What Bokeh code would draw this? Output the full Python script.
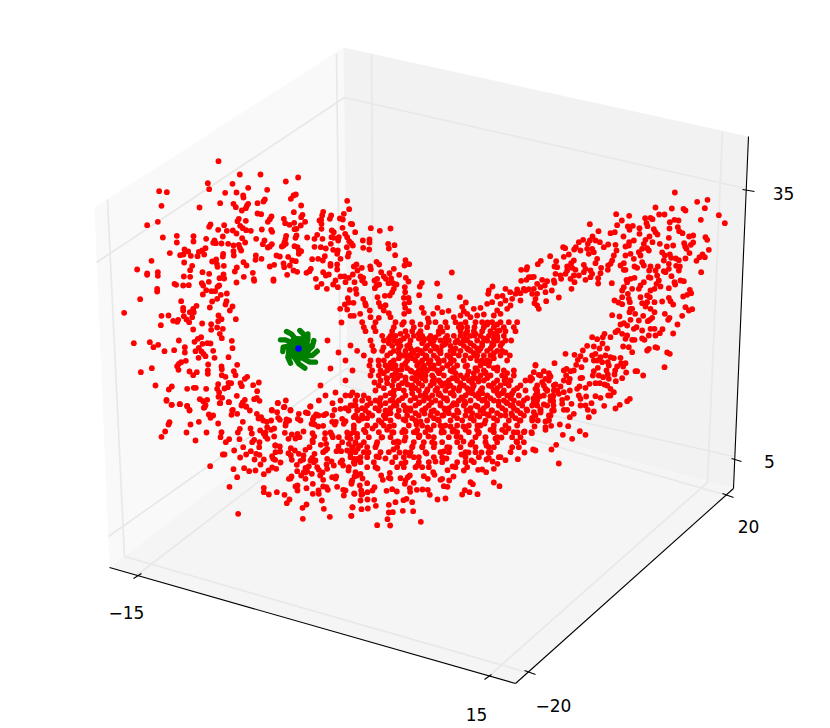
from bokeh.plotting import figure
from bokeh.models import Range1d, ColumnDataSource
from bokeh.core.properties import value
from bokeh.embed import file_html
from bokeh.resources import INLINE

# Red cloud, read from magnified views: (view x, view y), three view units per picture unit
cloud_a = [(324,32),(388,72),(450,72),(563,81),(526,93),(292,98),(366,100),(413,112),(296,116),(470,118),(146,122),(169,125),(344,127),(378,126),(398,135),(399,141),(556,132),(549,135),(541,145),(463,147),(459,153),(329,158),(369,160),(376,170),(413,160),(409,166),(406,173),(441,158),(572,165),(153,166),(267,171),(394,180),(550,185),(441,189),(452,191),(576,193),(572,200),(483,198),(478,206),(472,214),(385,205),(381,212),(406,211),(520,205),(524,218),(537,223),(551,217),(584,214),(571,225),(142,214),(110,224),(300,222),(296,229),(341,224),(389,226),(397,233),(407,239),(421,241),(323,238),(349,241),(367,240),(378,249),(454,237),(482,238),(485,244),(558,235),(552,236),(627,210),(199,256),(249,257),(157,261),(337,258),(287,265),(395,263),(437,265),(527,256),(525,265),(558,255),(555,262),(590,261),(620,253),(612,265),(199,276),(249,273),(312,270),(308,277),(316,278),(333,279),(353,280),(404,276),(462,270),(457,281),(484,281),(478,288),(472,291),(522,275),(519,285),(514,288),(526,280),(552,287),(561,290),(612,289),(369,285),(385,283),(388,292),(392,300),(285,293),(222,297),(233,303),(275,300),(265,304),(178,308),(209,314),(219,312),(241,316),(261,317),(281,312),(338,310),(337,318),(369,302),(370,315),(498,315),(508,318),(533,319),(565,300),(572,302),(565,310),(436,315),(435,328),(453,325),(605,326),(623,325),(123,331),(221,336),(305,333),(317,327),(319,340),(321,349),(340,346),(399,335),(408,345),(478,348),(491,343),(519,339),(521,350),(538,345),(545,330),(556,332),(549,360),(560,364),(245,346),(239,359),(80,357),(110,369),(110,373),(142,365),(142,376),(276,365),(296,370),(379,351),(373,363),(427,367),(601,355),(597,362),(588,367),(220,378),(239,379),(339,372),(327,383),(341,384),(400,379),(489,387),(530,373),(430,386),(616,385)]
cloud_b = [(192,10),(197,13),(218,15),(235,14),(274,8),(278,15),(295,4),(326,15),(321,19),(378,6),(431,1),(489,1),(620,20),(140,25),(140,33),(287,29),(303,32),(314,32),(277,42),(331,43),(349,39),(89,56),(212,62),(305,63),(320,55),(348,62),(345,72),(366,78),(298,81),(258,76),(248,85),(218,82),(218,90),(238,95),(250,95),(358,90),(41,97),(153,106),(174,105),(220,107),(245,110),(228,117),(236,125),(188,121),(203,118),(200,124),(324,105),(333,116),(323,122),(376,116),(151,134),(275,129),(302,131),(302,148),(320,141),(337,145),(248,147),(328,160),(334,173),(272,170),(262,175),(252,184),(205,180),(364,181),(70,188),(118,185),(143,193),(129,200),(276,190),(291,188),(300,189),(223,200),(265,202),(255,212),(366,203),(162,212),(191,209),(223,216),(308,211),(273,213),(279,220),(285,227),(264,232),(312,232),(354,230),(226,241),(212,245),(205,250),(200,257),(204,268),(293,252),(380,253),(124,263),(91,275),(333,258),(334,266),(237,273),(259,275),(248,284),(292,270),(292,280),(370,272),(375,284),(334,284),(345,289),(410,289),(403,295),(445,306),(135,315),(184,318),(175,327),(230,325),(250,322),(256,322),(287,325),(323,311),(320,325),(342,324),(352,320),(362,308),(354,307),(390,308),(394,317),(428,314),(440,332),(326,336),(324,349),(335,352),(379,346),(439,352),(431,356),(447,361),(403,358),(397,366),(355,365),(329,368),(168,358),(268,356),(278,362),(290,358),(502,367),(526,360),(184,373),(208,371),(230,377),(282,380),(393,375),(407,379),(520,380),(600,378),(484,388),(367,388),(237,388),(540,388),(625,360)]
cloud_c = [(48,1),(63,13),(88,11),(110,16),(117,30),(160,22),(165,14),(208,8),(235,5),(275,10),(287,18),(298,30),(382,8),(402,19),(420,30),(479,18),(546,8),(552,28),(570,25),(585,23),(605,15),(622,28),(175,42),(180,52),(188,45),(245,30),(243,43),(260,40),(319,40),(364,30),(380,35),(332,50),(338,60),(349,64),(362,60),(383,52),(388,58),(445,40),(442,55),(466,36),(472,38),(497,42),(490,50),(487,57),(520,44),(527,40),(408,57),(416,60),(406,68),(57,65),(54,72),(120,72),(145,64),(203,69),(277,64),(483,70),(492,72),(503,78),(518,76),(545,64),(556,64),(553,72),(575,55),(585,62),(580,70),(610,50),(622,55),(350,80),(371,84),(362,88),(268,85),(262,96),(329,90),(44,93),(108,96),(168,96),(213,95),(210,110),(304,99),(340,100),(345,108),(351,115),(371,108),(403,97),(424,102),(441,100),(447,110),(459,93),(414,115),(486,98),(491,108),(524,98),(544,103),(547,110),(565,110),(590,96),(600,100),(610,85),(620,100),(33,109),(135,120),(236,116),(226,125),(267,116),(311,118),(305,125),(327,125),(326,140),(487,125),(511,133),(527,130),(523,115),(575,125),(595,130),(600,115),(615,130),(278,140),(374,135),(388,138),(421,143),(433,150),(465,148),(477,140),(530,145),(558,152),(572,152),(590,150),(605,150),(622,145),(251,150),(301,152),(375,155),(389,153),(414,158),(445,160),(492,160),(518,155),(600,160),(217,162),(222,162),(287,162),(317,160),(327,163),(421,165),(365,167),(368,175),(269,171),(312,177),(340,177),(424,178),(458,177),(450,181),(485,172),(495,180),(530,175),(612,175),(622,175),(374,178),(330,192),(490,185),(439,193),(475,197),(465,202),(500,200),(543,183),(550,195),(528,192),(575,180),(578,195),(595,200),(612,190),(179,197),(365,201),(377,205),(281,203),(249,206),(296,212),(315,210),(440,212),(460,215),(470,212),(484,220),(505,208),(530,205),(340,221),(260,230),(423,228),(415,235),(452,225),(465,235),(509,225),(518,238),(545,230),(557,228),(605,240),(612,228),(630,220),(487,250),(603,250),(237,259),(340,262),(435,258),(441,255),(441,270),(468,263),(518,258),(528,260),(560,259),(379,275),(340,275),(355,282),(402,283),(487,280),(505,280),(532,268),(578,268),(580,285),(612,280),(636,280),(417,297),(409,308),(514,300),(468,312),(456,322),(520,325),(606,321),(263,340),(538,349),(602,346),(457,355)]
cloud_d = [(80,31),(86,56),(8,64),(5,75),(32,75),(28,85),(70,70),(58,84),(67,87),(2,88),(91,100),(95,101),(151,113),(66,112),(3,100),(3,115),(178,121),(210,114),(34,120),(40,125),(104,125),(74,130),(80,140),(127,150),(147,147),(147,156),(6,145),(33,140),(39,142),(55,140),(53,150),(86,152),(92,158),(97,165),(31,160),(203,160),(222,164),(205,174),(128,172),(146,177),(16,174),(1,170),(38,178),(52,180),(50,190),(79,170),(85,188),(82,198),(224,194),(60,205),(13,197),(7,210),(255,209),(266,221),(252,225),(168,214),(176,222),(30,220),(30,226),(50,222),(100,228),(108,222),(149,228),(151,236),(124,232),(111,240),(50,237),(8,245),(16,255),(25,252),(182,245),(207,248),(220,235),(236,253),(97,252),(60,258),(72,258),(85,262),(45,270),(190,258),(196,265),(212,264),(256,262),(264,273),(120,258),(128,262),(125,270),(133,278),(162,270),(170,265),(176,282),(168,285),(204,278),(218,278),(3,280),(38,282),(75,275),(102,275),(304,277),(350,279),(298,288),(228,282),(220,295),(215,305),(163,293),(253,290),(19,295),(52,290),(88,298),(106,296),(108,310),(254,305),(193,316),(208,315),(296,314),(358,317),(171,320),(250,322),(264,322),(82,323),(128,325),(134,338),(418,320),(394,246),(516,288),(555,295),(505,300),(503,310),(530,318),(546,316),(569,305),(590,297),(600,308),(615,300),(625,296),(436,336),(266,335),(175,337),(195,344),(180,348),(85,336),(73,342),(99,337),(59,355),(80,357),(136,345),(148,360),(190,360),(252,340),(254,352),(304,352),(351,352),(310,367),(365,365),(384,361),(425,349),(338,370),(430,362),(251,370),(265,362),(205,368),(210,380),(119,370),(90,376),(100,376),(150,380),(175,382),(322,384),(400,380),(420,375),(440,370),(460,355),(480,352),(500,340),(515,335),(540,340),(555,330),(575,325),(530,360),(560,355),(490,372),(520,375),(600,330),(602,271),(620,230),(618,237),(602,238),(618,268),(625,260),(610,295),(540,370),(470,375),(450,380),(570,345),(585,310)]
cloud_g = [(433,36),(531,58),(500,64),(375,81),(424,84),(459,85),(465,90),(523,83),(257,101),(296,106),(386,102),(402,102),(565,104),(344,113),(360,112),(366,116),(348,128),(351,137),(274,120),(511,118),(418,125),(432,118),(444,120),(583,128),(178,131),(260,134),(292,138),(307,136),(297,148),(327,143),(417,144),(442,140),(446,152),(456,158),(370,146),(375,155),(204,152),(240,158),(253,155),(279,168),(327,160),(357,168),(381,162),(415,172),(476,168),(488,165),(525,170),(530,178),(186,168),(178,180),(145,185),(158,178),(195,180),(208,185),(345,178),(366,185),(388,190),(340,190),(296,185),(310,180),(488,186),(481,193),(461,188),(464,198),(428,195),(409,198),(535,208),(98,200),(104,203),(136,200),(131,207),(150,210),(170,205),(172,190),(185,205),(220,200),(233,192),(255,193),(295,195),(285,198),(350,203),(355,210),(335,205),(325,215),(468,205),(477,218),(395,216),(403,225),(418,222),(422,232),(436,234),(445,239),(59,227),(100,229),(115,222),(190,215),(175,220),(200,235),(258,210),(250,225),(300,220),(285,225),(310,235),(330,225),(516,222),(523,230),(507,230),(498,241),(465,234),(77,242),(31,241),(22,251),(130,240),(122,248),(160,253),(195,248),(245,240),(240,250),(270,255),(280,248),(312,258),(320,262),(335,245),(340,255),(400,240),(415,250),(437,256),(448,258),(445,270),(72,258),(80,260),(110,258),(125,262),(165,265),(180,270),(212,262),(233,255),(232,268),(280,268),(285,268),(360,258),(382,258),(356,270),(375,270),(400,272),(405,275),(415,265),(512,275),(75,280),(110,270),(135,268),(160,275),(185,280),(210,278),(90,285),(105,280),(130,285),(145,285),(423,287),(380,285),(360,292),(385,300),(10,289),(3,290),(92,295),(165,298),(203,293),(180,290),(120,295),(132,305),(300,295),(312,292),(288,298),(340,305),(355,290),(450,300),(460,302),(432,305),(434,312),(35,298),(50,302),(70,300),(72,307),(20,310),(43,315),(30,320),(203,309),(244,308),(290,305),(330,315),(378,310),(390,318),(280,320),(275,330),(305,325),(325,325),(360,330),(372,325),(415,323),(123,325),(478,328),(482,338),(470,343),(458,348),(64,330),(10,325),(45,335),(20,340),(292,340),(275,350),(85,351),(47,362),(15,355),(5,340),(12,368),(252,360),(264,366),(275,371),(295,355),(298,365),(330,350),(350,345),(358,350),(350,365),(372,365),(395,363),(415,352),(420,362),(428,372),(335,368),(345,378),(360,385),(300,385),(305,385),(25,385),(20,375),(465,380),(485,386)]
cloud_h = [(245,14),(267,18),(297,5),(300,28),(314,10),(338,16),(325,30),(358,28),(352,32),(372,5),(365,22),(403,10),(417,22),(413,28),(455,16),(475,0),(441,42),(270,42),(280,38),(290,45),(318,50),(310,55),(255,65),(262,60),(360,55),(372,55),(396,56),(388,68),(375,75),(355,75),(428,69),(335,60),(185,80),(200,86),(222,70),(217,80),(240,80),(275,70),(290,75),(285,85),(305,88),(312,88),(335,84),(342,88),(216,99),(170,106),(190,108),(207,114),(230,114),(278,108),(295,110),(355,115),(350,120),(375,110),(380,112),(305,125),(105,130),(132,133),(157,120),(150,137),(142,148),(165,148),(185,135),(195,130),(210,140),(225,135),(240,140),(250,143),(270,142),(410,126),(418,130),(137,163),(153,170),(190,150),(200,150),(215,155),(232,155),(235,165),(260,168),(272,158),(285,158),(278,168),(72,158),(15,163),(202,172),(190,182),(187,195),(228,180),(232,192),(254,180),(252,192),(287,186),(315,182),(320,182),(338,195),(402,170),(40,182),(10,185),(25,193),(55,188),(60,198),(100,180),(108,175),(120,182),(130,180),(107,195),(118,205),(150,203),(155,202),(205,195),(218,200),(235,205),(256,212),(275,203),(45,205),(35,215),(5,205),(0,200),(100,210),(115,215),(75,222),(90,228),(177,220),(195,218),(208,218),(222,222),(230,225),(140,235),(147,228),(165,232),(15,235),(20,245),(45,235),(50,240),(70,240),(85,250),(100,245),(118,240),(240,235),(250,245),(233,255),(240,255),(145,255),(150,265),(167,258),(195,257),(210,262),(60,258),(68,258),(15,260),(28,258),(95,268),(110,262),(298,265),(290,272),(10,275),(20,285),(40,282),(68,272),(95,280),(123,280),(150,285),(165,285),(183,278),(221,286),(268,283),(255,294),(30,297),(65,300),(100,298),(110,298),(172,298),(190,303),(130,310),(118,320),(10,305),(5,322),(22,330),(60,315),(55,328),(175,320),(45,350),(62,346),(88,342),(113,347),(148,362),(165,373),(97,373),(125,385),(45,358),(4,368)]
cloud_f = [(6,260),(33,266),(52,264),(76,256),(71,238),(51,237),(3,286),(80,314),(119,315),(111,296),(115,276),(127,275),(157,271),(188,272),(115,253),(135,245),(159,239),(168,235),(185,245),(211,304),(261,237),(285,234),(238,223),(232,208),(216,207),(199,208),(178,203),(179,214),(139,213),(125,206),(108,211),(72,200),(50,188),(28,195),(32,210),(11,219),(33,223),(51,215),(335,222),(343,209),(357,215),(381,221),(447,197),(430,186),(367,191),(360,185),(291,199),(280,197),(296,180),(309,168),(275,175),(270,178),(232,175),(220,167),(190,187),(150,173),(163,190),(178,165),(172,170),(92,165),(97,178),(118,157),(115,172),(15,155),(3,185),(20,165),(430,145),(441,130),(383,148),(395,147),(407,155),(340,150),(291,149),(248,155),(252,163),(603,87),(617,73),(625,129),(548,87),(555,90),(522,96),(502,116),(465,119),(450,110),(408,117),(415,112)]
dense_e = {5:[35,75,135,160,185,235,255,285,315,345,375,395,425,450,475,500],
 20:[40,70,130,190,230,270,290,325,350,372,400,430,460,490],
 32:[45,75,125,165,185,210,265,272,330,350,370,395,420,440,465,495],
 46:[95,120,135,170,190,215,240,290,310,330,360,390,415,440,460],
 60:[60,100,130,150,180,220,250,270,295,320,350,380,410,440,465,482],
 76:[65,125,150,170,230,250,275,300,340,370,395,425,450],
 91:[20,70,95,130,165,190,210,240,265,300,330,360,385,410,440,455],
 105:[40,110,155,175,200,225,250,290,325,345,380,400,420,450,478],
 120:[60,100,130,170,195,215,240,265,280,310,340,380,395,410,470],
 135:[85,105,135,155,200,220,250,290,320,350,390,415,555],
 150:[65,90,110,140,180,205,230,260,300,380,400,440,460,490],
 165:[60,85,125,150,205,225,245,280,330,350,390,420,455,490,570,597],
 180:[90,130,165,195,225,265,295,320,355,385,400,440,480,525,540,595],
 195:[85,125,145,185,215,240,275,300,340,370,415,450,475,510,560,580,610],
 210:[75,130,160,205,230,255,285,325,355,390,430,460,490,525,560,590,620],
 225:[0,20,40,105,130,165,210,245,270,310,345,375,410,445,470,505,555,580,608],
 240:[15,35,75,120,145,180,220,255,290,325,360,395,430,460,490,520,560,600],
 255:[0,50,90,130,160,195,235,270,305,340,375,410,445,480,515,545,590],
 270:[20,45,85,105,145,180,215,250,285,320,355,390,425,465,500,530,570,610],
 285:[15,35,65,100,140,170,205,240,275,310,345,380,415,450,485,520,555,595],
 300:[25,85,120,165,195,230,265,300,335,370,405,440,475,510,545,595],
 315:[10,50,75,100,130,175,215,250,285,320,355,390,430,465,500],
 328:[40,110,160,200,240,275,310,345,380,420,455]}
core_e = {12:[155,210,330,410,440],40:[150,205,265,345,375,430],54:[115,160,205,235,285,345,400,430],
 68:[115,140,215,240,285,330,360,395,425,455],84:[145,180,225,255,315,350,380,420],
 98:[120,145,185,215,270,310,370,430],113:[145,185,225,260,300,360,430],128:[120,165,205,235,265,300,405],
 143:[125,170,215,240,275,310,375,430],158:[100,135,195,215,265,315,370,405,470],173:[110,140,185,215,250,305,340,375,410,465],
 188:[110,155,205,250,285,330,365,430,465],203:[100,145,195,260,310,350,395,440,500],218:[120,185,225,265,300,365,395,455,485],
 233:[90,155,195,235,280,335,385,420,480,530],248:[60,105,135,205,270,310,345,410,470,505],263:[35,75,120,170,225,295,360,400,455,490],
 278:[55,120,195,260,295,365,400,440,510],293:[50,105,185,250,320,360,430,495]}
dense_f = {35:[10,45,85,125,155,190,225,280,320,355,385,430,465,490,520,543],
 50:[20,55,95,120,165,205,250,295,330,375,405,440,485,510],
 65:[15,40,80,130,145,190,220,245,275,320,365,405,440,500,520],
 80:[5,50,75,140,185,215,250,290,330,375,415,430,485,505],
 95:[15,40,90,115,165,180,225,270,295,345,375,420,480],
 110:[0,30,50,85,135,160,190,205,250,275,345,385,445],
 125:[10,30,70,125,165,205,235,275,320,345,370],
 140:[50,75,140,160,195,215,235,315,350]}
cloud_extra = [(341,322),(327,340),(350,345),(338,352),(345,360),(352,370),(330,368),(345,380),(335,392),(352,392),(325,395),(320,385),(340,400)]
cloud_core = [(383,347),(391,362),(397,341),(404,355),(411,371),(417,349),(423,338),(429,362),(436,347),(442,331),(449,356),(455,342),(461,327),(468,349),(474,335),(481,361),(487,322),(493,344),(499,330),(505,352),(386,378),(393,391),(401,369),(407,384),(414,397),(421,376),(427,389),(433,368),(440,382),(446,398),(452,371),(459,387),(465,366),(472,378),(478,393),(485,372),(491,386),(497,367),(504,380),(511,394),(379,402),(388,413),(396,405),(403,419),(410,408),(416,424),(424,413),(431,402),(437,419),(444,408),(450,426),(458,412),(464,401),(471,417),(477,406),(484,423),(491,410),(498,401),(505,415),(512,405),(519,420),(526,409),(533,398),(540,412),(372,428),(381,437),(389,426),(397,441),(405,431),(412,446),(419,435),(427,427),(434,443),(441,432),(449,447),(456,436),(463,426),(470,444),(478,433),(486,445),(493,428),(501,437),(508,428),(516,441),(524,431),(534,426),(545,421),(553,405),(360,445),(368,452),(376,444),(385,458),(393,449),(401,463),(409,455),(417,465),(426,453),(435,461),(443,451),(452,466),(461,454),(471,460),(481,452),(492,461),(330,432),(338,446),(347,437),(355,460),(340,462),(325,450),(312,440),(303,455),(295,438),(285,425),(275,445),(265,432),(258,418),(250,428),(300,420),(318,415),(332,415),(348,410),(362,418),(368,398),(374,382),(369,365),(378,360),(373,350),(355,405),(345,395),(310,460),(322,472),(335,478),(348,470),(362,478),(377,468),(372,490),(390,478),(405,480),(280,462),(268,470),(290,478),(305,472),(318,490),(345,490),(360,500),(440,350)]
cloud_core_more = [(409,344),(426,356),(444,344),(463,340),(480,348),(497,338),(388,366),(405,377),(424,368),(447,365),(468,371),(489,361),(411,388),(432,381),(452,392),(472,388),(497,393),(392,399),(419,402),(438,394),(461,397),(484,399),(506,402),(398,416),(420,421),(443,415),(466,410),(487,414),(511,413),(381,422),(404,440),(428,436),(452,431),(477,425),(495,438),(517,432),(376,456),(399,452),(422,446),(446,458),(468,452),(488,452),(412,352),(435,337),(453,350),(474,355),(416,378),(439,372),(455,378),(478,381),(425,396),(447,386),(468,392),(405,410),(431,411),(456,404),(479,416),(393,432),(416,432),(440,425),(463,441)]

# Small pinwheel: arms read from a magnified view
arm_xs = [[88,100,100,92],[48,62,72,78],[30,45,60,72],[37,38,50,68],[60,52,55,72],[103,85,75,78],[135,118,100,90],[140,125,110,96],[130,125,115,100],[112,112,105,95]]
arm_ys = [[30,42,55,70],[33,40,52,68],[58,58,65,75],[93,80,78,82],[128,110,95,90],[143,130,115,98],[125,125,115,100],[92,105,105,92],[60,78,88,85],[40,58,72,78]]
hub_view = (84, 84)

x_tick_labels = ["\u221215", "15"]
y_tick_labels = ["\u221220", "20"]
z_tick_labels = ["5", "35"]


def place(points, x0, y0):
    return [x0 + a / 3 for a, _ in points], [y0 + b / 3 for _, b in points]


def rows(table):
    return [(a, b) for b, xs in table.items() for a in xs]


red_x, red_y = [], []
for pts, x0, y0 in [(cloud_a, 110, 150), (cloud_b, 110, 280), (cloud_c, 150, 400), (cloud_d, 320, 190),
                    (rows(dense_e), 350, 320), (rows(core_e), 350, 320), (rows(dense_f), 350, 420), (cloud_f, 350, 420),
                    (cloud_g, 530, 180), (cloud_h, 530, 310)]:
    xs, ys = place(pts, x0, y0)
    red_x += xs
    red_y += ys
red_x += [a for a, _ in cloud_extra + cloud_core + cloud_core_more]
red_y += [b for _, b in cloud_extra + cloud_core + cloud_core_more]

p = figure(width=830, height=728, x_range=Range1d(0, 830), y_range=Range1d(728, 0),
           toolbar_location=None, output_backend="svg", min_border=0, outline_line_color=None,
           background_fill_color="white", border_fill_color="white")
p.axis.visible = False
p.grid.visible = False

# Panes
p.patch([94, 343, 347, 109], [207, 47, 385, 567], fill_color="#f9f9f9", line_color=None)
p.patch([343, 748, 733, 347], [47, 136, 488, 385], fill_color="#f2f2f2", line_color=None)
p.patch([109, 347, 733, 515], [567, 385, 488, 683], fill_color="#f5f5f5", line_color=None)

# Grid
grid_c = "#e8e8e8"
gx = [[96, 344, 745], [108, 346, 733], [107, 124, 527], [336, 340, 727], [136, 373], [371, 373], [488, 707, 722]]
gy = [[262, 97, 188], [536, 368, 456], [199, 556, 672], [53, 384, 495], [575, 393], [53, 393], [676, 482, 131]]
p.multi_line(gx, gy, line_color=grid_c, line_width=1.7)

# Axis lines and ticks
p.multi_line([[109, 515], [515, 733], [733, 748]], [[567, 683], [683, 488], [488, 136]], line_color="black", line_width=1.1)
p.multi_line([[133, 141], [484, 491], [524, 535], [722, 733], [731, 741], [742, 754]],
             [[578, 573], [679, 674], [670, 674], [493, 497], [458, 461], [189, 191]], line_color="black", line_width=1.1)

# Tick labels
labels = x_tick_labels + y_tick_labels + z_tick_labels
src = ColumnDataSource(dict(x=[126, 476, 553, 748, 769, 783], y=[612, 714, 705, 526, 461, 193], t=labels))
p.text("x", "y", text="t", source=src, text_font=value("DejaVu Sans"), text_font_size=value("17px"),
       text_color="black", text_align="center", text_baseline="middle")

# Data
p.scatter(red_x, red_y, size=5.8, fill_color="#ff0000", line_color=None)
p.multi_line([[270 + a / 3 for a in xs] for xs in arm_xs], [[320 + b / 3 for b in ys] for ys in arm_ys],
             line_color="#008000", line_width=5.4, line_cap="round", line_join="round")
p.scatter([270 + hub_view[0] / 3], [320 + hub_view[1] / 3], size=25, fill_color="#008000", line_color=None)
p.scatter([270 + hub_view[0] / 3], [320 + hub_view[1] / 3], size=6.5, fill_color="#0000ff", line_color=None)

open("out.html", "w").write(file_html(p, INLINE))
